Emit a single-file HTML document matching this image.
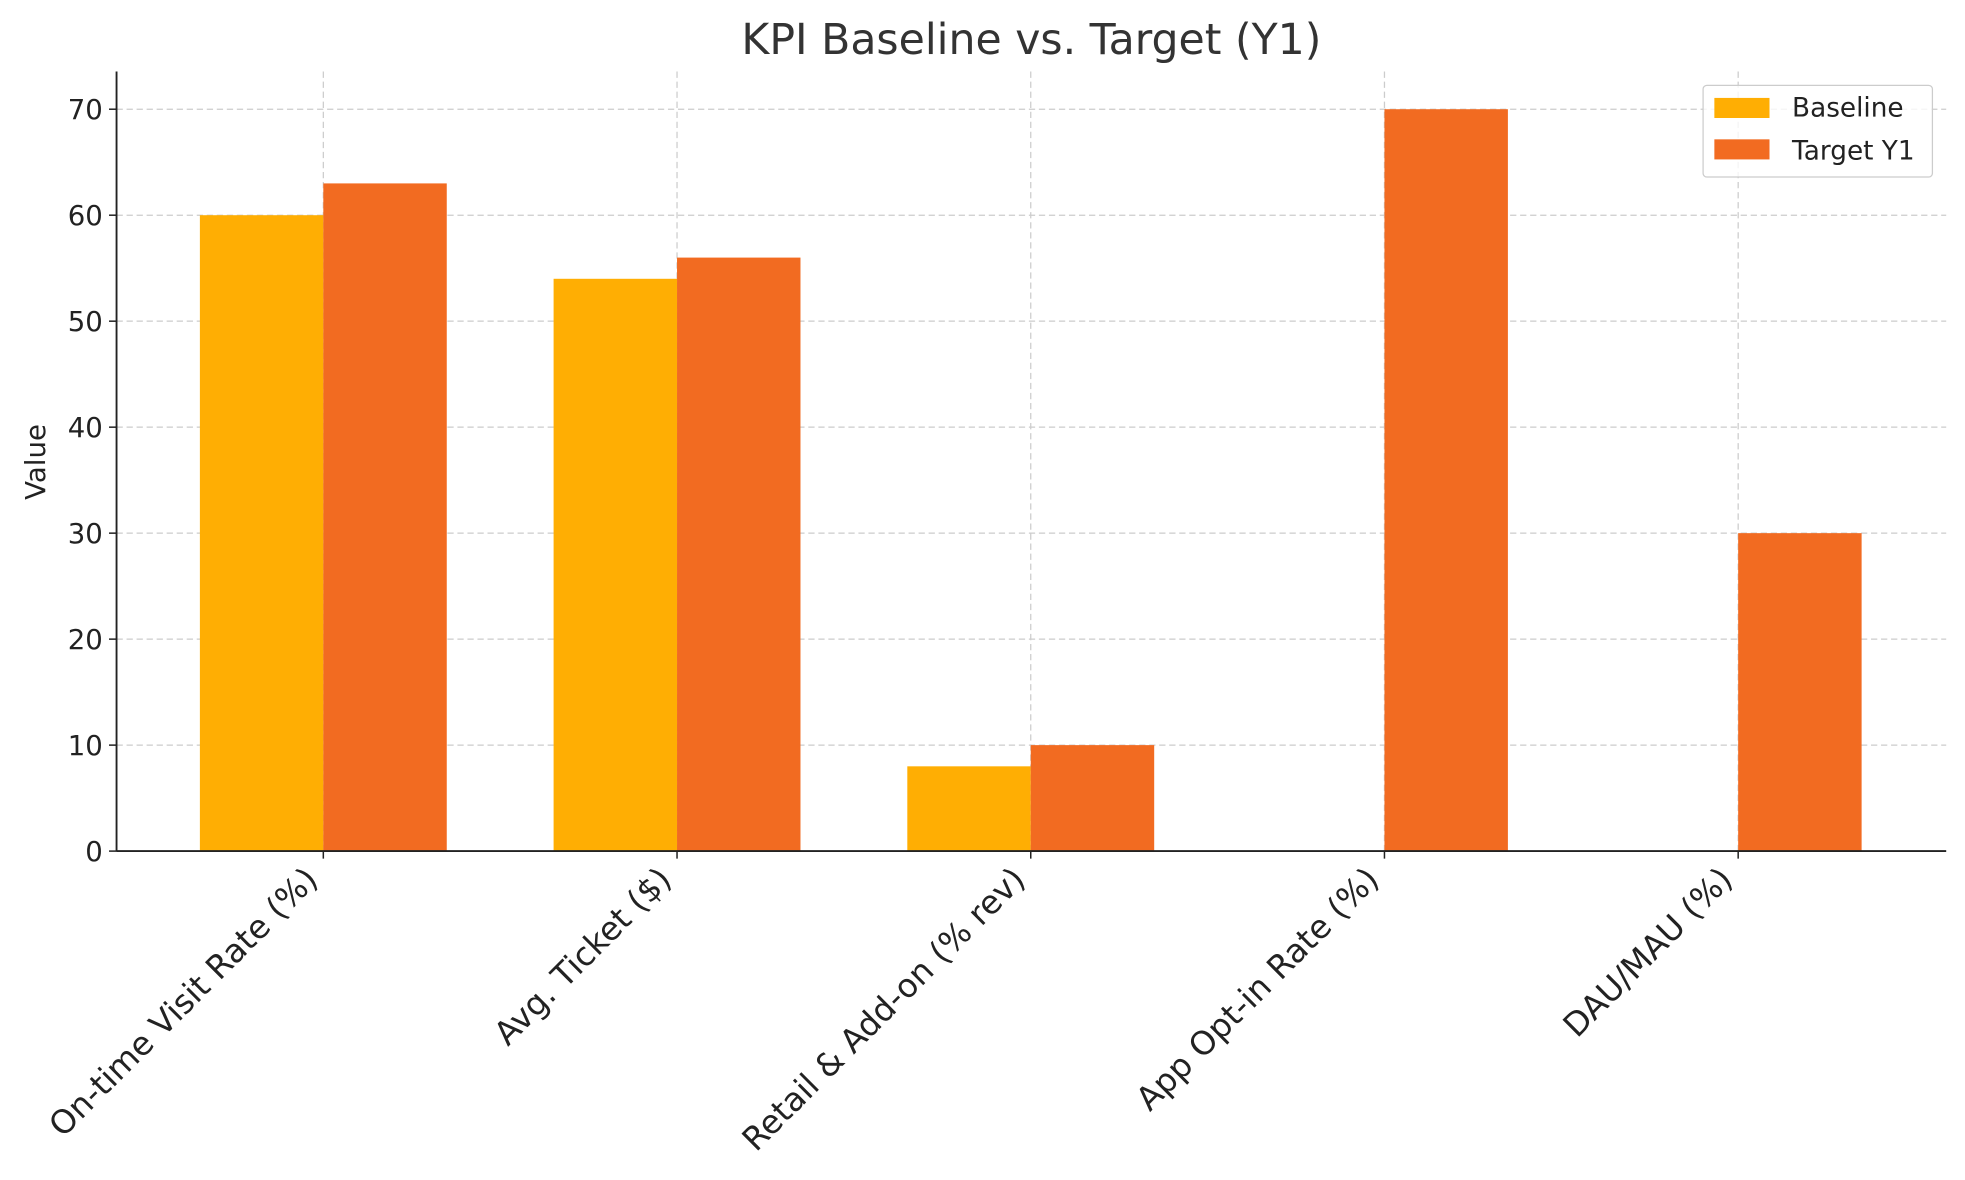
<!DOCTYPE html>
<html><head><meta charset="utf-8">
<style>
html,body{margin:0;padding:0;background:#fff;width:1965px;height:1180px;overflow:hidden}
svg{display:block}
text{font-family:"DejaVu Sans","Liberation Sans",sans-serif;fill:#222}
</style></head>
<body>
<svg id="chart" width="1965" height="1180" viewBox="0 0 1568 940" preserveAspectRatio="none" xmlns="http://www.w3.org/2000/svg">
<text x="823" y="43" font-size="34" text-anchor="middle" style="fill:#333">KPI Baseline vs. Target (Y1)</text>
<text transform="translate(36,368) rotate(-90)" font-size="22" text-anchor="middle">Value</text>
<g id="grid"></g><g id="bars"></g><g id="axes"></g>
<g>
<rect x="1359" y="68" width="183" height="73" rx="3" fill="#fff" fill-opacity="0.8" stroke="#ccc"/>
<rect x="1368" y="78" width="44" height="16" fill="#FFAE03"/>
<text x="1430" y="93" font-size="21">Baseline</text>
<rect x="1368" y="111" width="44" height="16" fill="#F26B21"/>
<text x="1430" y="127" font-size="21">Target Y1</text>
</g>
</svg>
<script>
const categories=["On-time Visit Rate (%)","Avg. Ticket ($)","Retail & Add-on (% rev)","App Opt-in Rate (%)","DAU/MAU (%)"];
const baseline=[60,54,8,0,0];
const target=[63,56,10,70,30];
const yTicks=[0,10,20,30,40,50,60,70];

const NS="http://www.w3.org/2000/svg";
const L=93,R=1553,T=57,B=678;
const yS=v=>B-v*(B-87)/70;
const xS=i=>258+i*282.25;
const bw=98.5;
function mk(tag,attrs,parent){const e=document.createElementNS(NS,tag);for(const k in attrs)e.setAttribute(k,attrs[k]);parent.appendChild(e);return e;}
const grid=document.getElementById('grid'),bars=document.getElementById('bars'),axes=document.getElementById('axes');
yTicks.forEach(t=>{
  const y=yS(t);
  if(t>0){const g=mk('line',{x1:L,x2:R,y1:y,y2:y,stroke:'#ccc','stroke-dasharray':'5,3','stroke-width':1},grid);
  
  }
  mk('line',{x1:L-6,x2:L,y1:y,y2:y,stroke:'#222','stroke-width':1.2},axes);
  const tx=mk('text',{x:L-11,y:y+8,'font-size':22,'text-anchor':'end'},axes);
  tx.textContent=t;
  
  
});
categories.forEach((c,i)=>{
  const x=xS(i);
  const g=mk('line',{x1:x,x2:x,y1:T,y2:B,stroke:'#ccc','stroke-dasharray':'5,3','stroke-width':1},grid);
  
  
  if(baseline[i]>0){const b=mk('rect',{x:x-bw,y:yS(baseline[i]),width:bw,height:B-yS(baseline[i]),fill:'#FFAE03'},bars);
  
  }
  const t=mk('rect',{x:x,y:yS(target[i]),width:bw,height:B-yS(target[i]),fill:'#F26B21'},bars);
  
  
  mk('line',{x1:x,x2:x,y1:B,y2:B+6,stroke:'#222','stroke-width':1.2},axes);
  const lb=mk('text',{transform:`translate(${x-3},${B+24}) rotate(-45)`,'font-size':26,'text-anchor':'end'},axes);
  lb.textContent=c;
  
  
});
mk('line',{x1:L,x2:L,y1:T,y2:B,stroke:'#222','stroke-width':1.5},axes);
mk('line',{x1:L,x2:R,y1:B,y2:B,stroke:'#222','stroke-width':1.5},axes);
</script>
</body></html>
